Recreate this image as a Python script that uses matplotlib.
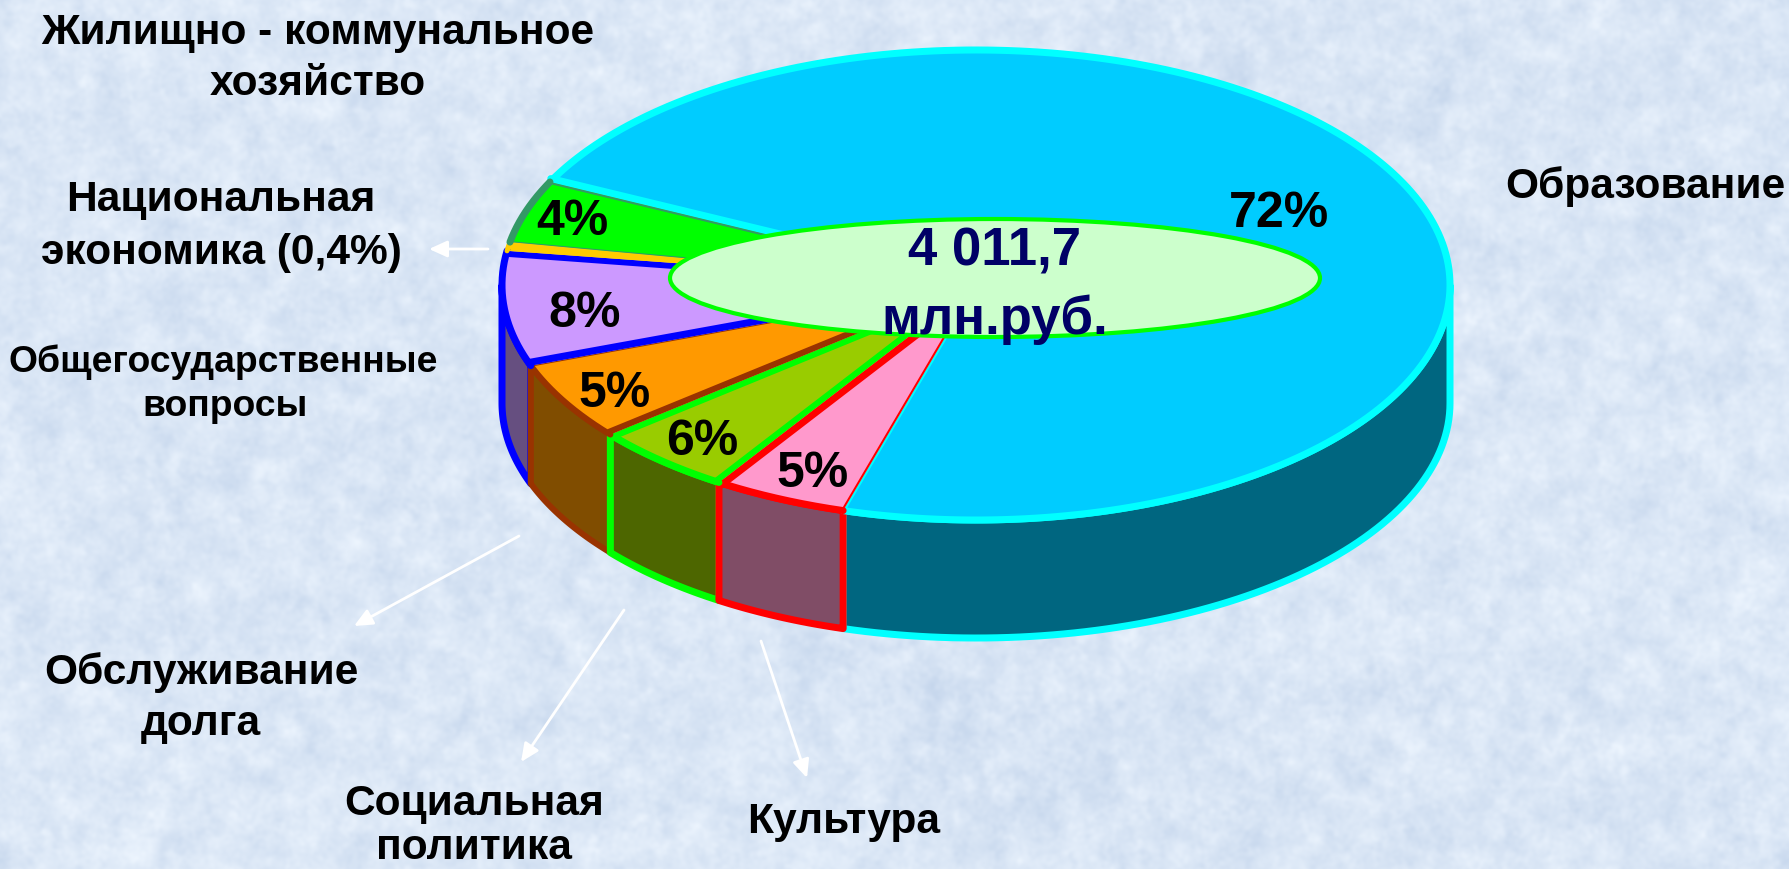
import numpy as np
from matplotlib import pyplot as plt
from matplotlib.patches import Ellipse, Polygon

plt.rcParams['font.family'] = ['Liberation Sans', 'DejaVu Sans']

# slices in clockwise order, starting from the big one
sector_names = ['Образование', 'Культура', 'Социальная политика', 'Обслуживание долга',
                'Общегосударственные вопросы', 'Национальная экономика',
                'Жилищно - коммунальное хозяйство']
# shares as measured from the slice angles in the picture, printed labels are rounder
sector_shares = [72.3, 4.6, 4.9, 5.4, 7.9, 0.6, 4.3]
sector_labels = ['72%', '5%', '6%', '5%', '8%', '', '4%']
total_label = '4 011,7\nмлн.руб.'

top_colors = ['#00CCFF', '#FF99CC', '#99CC00', '#FF9900', '#CC99FF', '#FFCC00', '#00FF00']
side_colors = ['#006680', '#804D66', '#4D6600', '#804D00', '#664F80', '#806600', '#008000']
edge_colors = ['#00FFFF', '#FF0000', '#00FF00', '#993300', '#0000FF', '#FFCC00', '#339966']
ray_start_px = [7, 2, 6, 6, 7, 1, 1]
ray_end_px = [2, 7, 6, 1, 6, 1, 2]
arc_px = [7, 7, 7, 6, 7, 5, 7]

W, H = 1789, 869
CX, CY, RX, RY = 976, 285, 474, 235
DEPTH = 118
START = 154


def rim(t_deg, dy=0):
    t = np.radians(t_deg)
    return np.column_stack([CX + RX * np.cos(t), CY - RY * np.sin(t) + dy])


def make_background():
    # paper like texture, from a hashed grid so it does not need a random generator
    yy, xx = np.mgrid[0:H, 0:W]
    noise = np.sin(xx * 12.9898 + yy * 78.233) * 43758.5453
    noise = noise - np.floor(noise)
    fx = np.fft.fftfreq(noise.shape[1])[None, :]
    fy = np.fft.fftfreq(noise.shape[0])[:, None]
    tex = np.zeros_like(noise)
    for sigma, weight in [(2, 0.9), (6, 1.0), (14, 0.6)]:
        blur = np.exp(-2 * (np.pi * sigma) ** 2 * (fx ** 2 + fy ** 2))
        layer = np.real(np.fft.ifft2(np.fft.fft2(noise) * blur))
        tex += weight * (layer - layer.mean()) / layer.std()
    tex = tex / tex.std()
    base = np.array([219, 231, 246]) / 255
    amp = np.array([0.018, 0.014, 0.008])
    return np.clip(base + tex[..., None] * amp, 0, 1)


def draw_sides(ax, ranges):
    # big slice goes first, then left to right so the red edge ends on top of it
    for i in [0, 4, 3, 2, 1]:
        hi, lo = ranges[i]
        a, b = max(lo, -180), min(hi, 0)
        if b <= a:
            continue
        ts = np.linspace(a, b, 80)
        pts = np.vstack([rim(ts), rim(ts[::-1], DEPTH)])
        ax.add_patch(Polygon(pts, closed=True, facecolor=side_colors[i],
                             edgecolor=edge_colors[i], lw=arc_px[i] * 0.72, joinstyle='round'))


def draw_ray(ax, angle, mid_angle, color, px):
    p = rim(np.array([angle]))[0]
    c = np.array([CX, CY])
    d = (p - c) / np.hypot(*(p - c))
    n = np.array([-d[1], d[0]])
    if np.dot(n, rim(np.array([mid_angle]))[0] - p) < 0:
        n = -n
    shift = n * px / 2
    ax.plot([c[0] + shift[0], p[0] + shift[0]], [c[1] + shift[1], p[1] + shift[1]],
            color=color, lw=px * 0.72, solid_capstyle='round')


def draw_top(ax, ranges):
    for i, (hi, lo) in enumerate(ranges):
        ts = np.linspace(hi, lo, 200)
        pts = np.vstack([[CX, CY], rim(ts)])
        ax.add_patch(Polygon(pts, closed=True, facecolor=top_colors[i], edgecolor='none'))
    for i, (hi, lo) in enumerate(ranges):
        ts = np.linspace(hi, lo, 200)
        xy = rim(ts)
        ax.plot(xy[:, 0], xy[:, 1], color=edge_colors[i], lw=arc_px[i] * 0.72,
                solid_capstyle='round')
        mid = (hi + lo) / 2
        draw_ray(ax, hi, mid, edge_colors[i], ray_start_px[i])
        draw_ray(ax, lo, mid, edge_colors[i], ray_end_px[i])


def add_arrow(ax, start, end):
    ax.annotate('', xy=end, xytext=start,
                arrowprops=dict(arrowstyle='-|>,head_length=1.1,head_width=0.5',
                                color='white', lw=2, shrinkA=0, shrinkB=0))


fig = plt.figure(figsize=(W / 100, H / 100), dpi=100)
ax = fig.add_axes([0, 0, 1, 1])
ax.imshow(make_background(), extent=(0, W, H, 0), interpolation='bilinear', zorder=0)
ax.set_xlim(0, W)
ax.set_ylim(H, 0)
ax.axis('off')

angles = START - np.cumsum([0] + sector_shares) / sum(sector_shares) * 360
sector_ranges = [(angles[i], angles[i + 1]) for i in range(len(sector_shares))]

draw_sides(ax, sector_ranges)
draw_top(ax, sector_ranges)

ax.add_patch(Ellipse((995, 278), 650, 118, facecolor='#CCFFCC', edgecolor='#00FF00', lw=3, zorder=5))

# percent labels
label_xy = [(1279, 214), (813, 474), (702, 442), (615, 394), (585, 314), None, (572, 222)]
for text, xy in zip(sector_labels, label_xy):
    if xy:
        ax.text(xy[0], xy[1], text, fontsize=36, fontweight='bold', color='black',
                ha='center', va='center', zorder=6)

for line, y in zip(total_label.split('\n'), [252, 320]):
    ax.text(995, y, line, fontsize=38, fontweight='bold', color='#000066',
            ha='center', va='center', zorder=6)

# category captions
captions = [
    ('Жилищно - коммунальное', 318, 33, 30.6),
    ('хозяйство', 318, 84, 30.6),
    ('Национальная', 221, 200, 30.6),
    ('экономика (0,4%)', 221, 253, 30.6),
    ('Общегосударственные', 223, 362, 26.8),
    ('вопросы', 225, 406, 26.8),
    ('Обслуживание', 201, 673, 30.6),
    ('долга', 201, 724, 30.6),
    ('Социальная', 474, 804, 30.6),
    ('политика', 474, 848, 30.6),
    ('Культура', 844, 822, 30.6),
    ('Образование', 1645, 187, 30.6),
]
for text, x, y, size in captions:
    ax.text(x, y, text, fontsize=size, fontweight='bold', color='black',
            ha='center', va='center', zorder=6)

add_arrow(ax, (488, 249), (429, 249))
add_arrow(ax, (519, 536), (354, 626))
add_arrow(ax, (624, 610), (521, 762))
add_arrow(ax, (761, 641), (807, 778))

fig.savefig('out.png', dpi=100)
